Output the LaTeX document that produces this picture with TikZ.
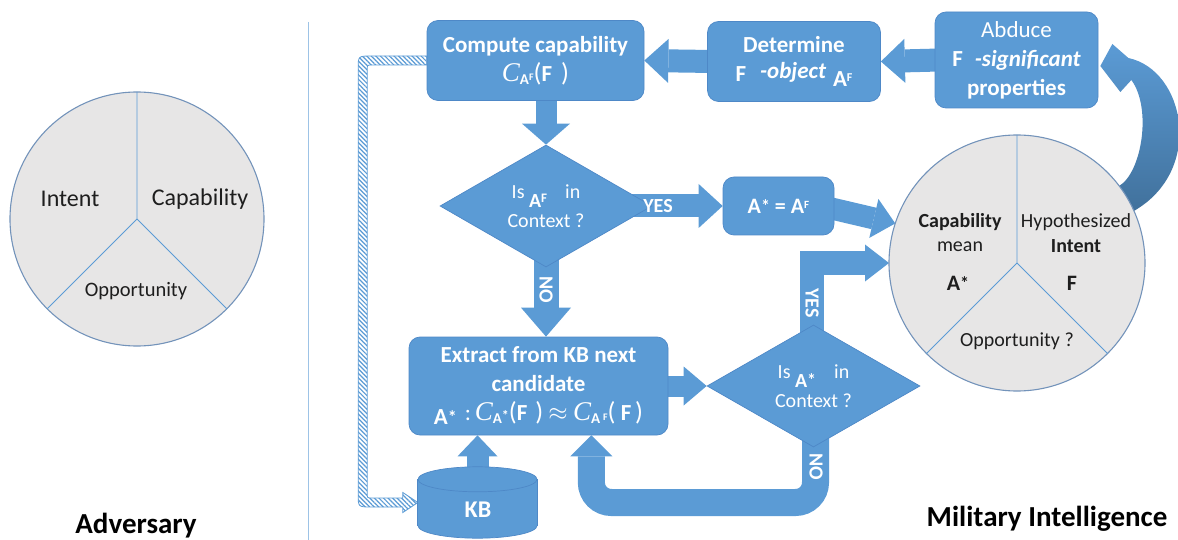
\documentclass[tikz,border=0pt]{standalone}
\usepackage{fontspec}
\setmainfont{Carlito}
\newfontfamily\cfont{Liberation Serif}
\usetikzlibrary{shapes.geometric,arrows.meta,calc,patterns.meta}

\definecolor{boxblue}{HTML}{5B9BD5}
\definecolor{edgeblue}{HTML}{4E88C7}
\definecolor{darkblue}{HTML}{41719C}
\definecolor{piefill}{HTML}{E7E6E6}
\definecolor{pieedge}{HTML}{7393BA}
\definecolor{sepline}{HTML}{9DC3E6}
\definecolor{ink}{HTML}{1E1E1E}

\pgfdeclarelayer{back}
\pgfsetlayers{back,main}

\newcommand\fs[2]{\fontsize{#1}{#2}\selectfont}
% italic C of the capability function
\newcommand\capC{{\cfont\mdseries\itshape\fs{27}{27}C}}
% index of C: bold A with a small raised mark
\newcommand\idx[1]{\raisebox{-3pt}{\fs{15}{15}\bfseries A\raisebox{3.5pt}{\fs{10}{10}#1}}}
% bold A with a small raised F
\newcommand\AF[1][11]{\textbf{A}\raisebox{5pt}{\fs{#1}{#1}\bfseries F}}
% bold A with a star
\newcommand\As[1][18]{\textbf{A}\raisebox{1pt}{\fs{#1}{#1}\bfseries *}}

\begin{document}
\begin{tikzpicture}[x=1pt,y=-1pt,
  box/.style={rectangle, rounded corners=11pt, fill=boxblue, draw=edgeblue,
    line width=0.7pt, text=white, align=center, inner sep=0pt,
    font={\fs{23}{29}\bfseries}},
  decision/.style={diamond, fill=boxblue, draw=edgeblue, line width=0.7pt,
    text=white, align=center, inner sep=0pt, font={\fs{20}{29}}},
  blockarrow/.style={color=boxblue, line width=23pt,
    -{Triangle[width=44pt,length=24pt,line width'=0pt]}},
  lbl/.style={text=white, font={\fs{20}{20}\bfseries}, inner sep=0pt},
  pienode/.style={circle, fill=piefill, draw=pieedge, line width=1.1pt,
    inner sep=0pt, outer sep=0pt},
  pieline/.style={draw=boxblue, line width=0.9pt},
  pietext/.style={text=ink, font={\fs{20}{20}}, inner sep=0pt},
  bigpie/.style={text=ink, font={\fs{24}{24}}, inner sep=0pt},
  heading/.style={text=black, font={\fs{29}{29}\bfseries}, inner sep=0pt},
  kbfill/.style={fill=boxblue, draw=edgeblue, line width=0.7pt},
  band/.style={preaction={fill=white}, pattern={Lines[angle=-45,distance=3.2pt,line width=1.2pt]},
    pattern color=boxblue, draw=boxblue, line width=0.8pt},
]
\useasboundingbox (0,0) rectangle (1178,540);

% ---------- adversary side ----------
\node[pienode, minimum size=254pt] (lc) at (137,219) {};
\draw[pieline] (lc.center) -- (lc.north) (lc.center) -- (lc.-45) (lc.center) -- (lc.-135);
\node[bigpie] (lint) at (70,199) {Intent};
\node[bigpie] (lcap) at (200,199) {Capability};
\node[pietext, font={\fs{20.5}{20.5}}] (lopp) at (136,291) {Opportunity};
\node[heading] (adv) at (136,526) {Adversary};

\draw[sepline, line width=1pt] (308,22) -- (308,540);

% ---------- process nodes ----------
\node[box, minimum width=217pt, minimum height=80pt] (cmp) at (535.5,60.5)
  {Compute capability\\ \capC\idx{F}{\mdseries\fs{26}{26}(}F\ \,{\mdseries\fs{26}{26})}};
\node[box, minimum width=173pt, minimum height=80pt] (det) at (794,61.5)
  {Determine\\ F\hspace{14pt}\raisebox{3pt}{\itshape -object}\hspace{7pt}\raisebox{-5pt}{\AF[12]}};
\node[box, minimum width=163pt, minimum height=96pt] (abd) at (1016.5,60)
  {{\mdseries Abduce}\\ F\hspace{12pt}{\itshape -significant}\\ properties};
\node[decision, minimum width=212pt, minimum height=122pt] (d1) at (546,206)
  {Is \raisebox{-9pt}{\AF[13]}\hspace{18pt}in\\ Context ?};
\node[box, minimum width=111pt, minimum height=58pt, font={\fs{22}{22}\bfseries}] (ab) at (778.5,206)
  {\As\ =\ \AF};
\node[box, minimum width=259pt, minimum height=98pt] (ex) at (538.5,386)
  {Extract from KB next\\ candidate\\
   \raisebox{-4pt}{\As}\hspace{8pt}{\mdseries :}\,\capC\idx{\fs{14}{14}*}{\mdseries\fs{26}{26}(}F\hspace{8pt}{\mdseries\fs{26}{26})}\ $\approx$\ \capC\idx{\hspace{3pt}F}{\mdseries\fs{26}{26}(}\ F\,{\mdseries\fs{26}{26})}};
\node[decision, minimum width=213pt, minimum height=122pt] (d2) at (813.5,386)
  {Is \raisebox{-9pt}{\As}\hspace{18pt}in\\ Context ?};
\node[minimum width=119pt, minimum height=71pt, inner sep=0pt] (kb) at (477.5,502.5) {};
\coordinate (exin) at ($(ex.south east)+(-77,0)$);

% ---------- intelligence pie ----------
\node[pienode, minimum size=256pt] (rc) at (1017,263) {};
\draw[pieline] (rc.center) -- (rc.north) (rc.center) -- (rc.-45) (rc.center) -- (rc.-135);
\node[pietext] (rcap) at (960,222) {\textbf{Capability}};
\node[pietext] (rmean) at (960,247) {mean};
\node[pietext, font={\fs{22}{22}}] (rastar) at (958,283) {\As[18]};
\node[pietext] (rhyp) at (1076,222) {Hypothesized};
\node[pietext] (rint) at (1076,246) {\textbf{Intent}};
\node[pietext, font={\fs{22}{22}}] (rF) at (1072,283) {\textbf{F}};
\node[pietext] (ropp) at (1017,341) {Opportunity ?};
\node[heading] (mil) at (1047,519) {Military Intelligence};

% ---------- knowledge base cylinder ----------
\filldraw[kbfill] ($(kb.south)+(0,-12.5)$) ellipse [x radius=59.5pt, y radius=12.5pt];
\fill[boxblue] ($(kb.north west)+(0,12.5)$) rectangle ($(kb.south east)+(0,-12.5)$);
\draw[edgeblue, line width=0.7pt] ($(kb.north west)+(0,12.5)$) -- ($(kb.south west)+(0,-12.5)$)
  ($(kb.north east)+(0,12.5)$) -- ($(kb.south east)+(0,-12.5)$);
\filldraw[kbfill] ($(kb.north)+(0,12.5)$) ellipse [x radius=59.5pt, y radius=12.5pt];
\node[text=white, font={\fs{24}{24}\bfseries}, inner sep=0pt] (kbtext) at (478,510) {KB};

% ---------- connectors ----------
\begin{pgfonlayer}{back}
\draw[blockarrow] ($(abd.west)+(5,0)$) -- (det.east);
\draw[blockarrow] ($(det.west)+(5,0)$) -- (cmp.east);
\draw[blockarrow, line width=21pt, -{Triangle[width=48pt,length=21pt,line width'=0pt]}]
  ($(cmp.south -| d1.north)+(0,-5)$) -- (d1.north);
\draw[blockarrow] ($(d1.east)+(-20,0)$) -- (ab.west);
\draw[blockarrow, line width=22pt, -{Triangle[width=40pt,length=22pt,line width'=0pt]}]
  ($(ab.east)+(-5,2)$) -- (rc.162);
\draw[blockarrow, line width=25pt, -{Triangle[width=50pt,length=29pt,line width'=0pt]}]
  ($(d1.south)+(0,-20)$) -- (d1.south |- ex.north);
\draw[blockarrow, line width=21pt, -{Triangle[width=39pt,length=23pt,line width'=0pt]}]
  (ex.east) -- (d2.west);
\draw[blockarrow, line width=22pt, -{Triangle[width=40pt,length=21pt,line width'=0pt]}]
  ($(kb.north)+(0,12)$) -- (kb.north |- ex.south);
\draw[blockarrow, line width=24pt, line join=miter, -{Triangle[width=37pt,length=24pt,line width'=0pt]}]
  ($(d2.north)+(-2,20)$) |- (rc.west);
\draw[blockarrow, line width=27pt, rounded corners=20pt, -{Triangle[width=42pt,length=21pt,line width'=0pt]}]
  ($(d2.south)+(2,-20)$) -- ($(d2.south |- kb.center)+(2,0)$) -- (exin |- kb.center) -- (exin);
% curved feedback arrow from the pie to the abduction step
\shade[top color=boxblue, bottom color=darkblue]
  (rc.37) .. controls (1142,172) and (1152,108) .. ($(abd.east)+(33,20)$)
  -- ($(abd.east)+(22,32)$) -- ($(abd.east)+(2,6)$) -- ($(abd.east)+(14,-16)$)
  -- ($(abd.east)+(30,-2)$) .. controls (1185,70) and (1205,170) .. (rc.24) -- cycle;
% hatched link from the capability step back to the knowledge base
\path[band] let \p1=(cmp.west), \p2=(kb.west) in
  (\x1,\y1+4.5pt) -- (\x1-55.5pt,\y1+4.5pt) .. controls (\x1-68.5pt,\y1+4.5pt) .. (\x1-68.5pt,\y1-8.5pt)
  -- (\x1-68.5pt,\y2+8.5pt) .. controls (\x1-68.5pt,\y2-4.5pt) .. (\x1-55.5pt,\y2-4.5pt)
  -- (\x2-15pt,\y2-4.5pt) -- (\x2-15pt,\y2-10pt) -- (\x2,\y2) -- (\x2-15pt,\y2+10pt) -- (\x2-15pt,\y2+4.5pt)
  -- (\x1-54.5pt,\y2+4.5pt) .. controls (\x1-59.5pt,\y2+4.5pt) .. (\x1-59.5pt,\y2+9.5pt)
  -- (\x1-59.5pt,\y1-9.5pt) .. controls (\x1-59.5pt,\y1-4.5pt) .. (\x1-54.5pt,\y1-4.5pt)
  -- (\x1,\y1-4.5pt) -- cycle;
\end{pgfonlayer}

% ---------- branch labels ----------
\node[lbl] (yes1) at (658,206) {YES};
\node[lbl, rotate=-90] (no1) at (546,290) {NO};
\node[lbl, rotate=-90] (yes2) at (812,303) {YES};
\node[lbl, rotate=-90] (no2) at (816,467) {NO};
\end{tikzpicture}
\end{document}
